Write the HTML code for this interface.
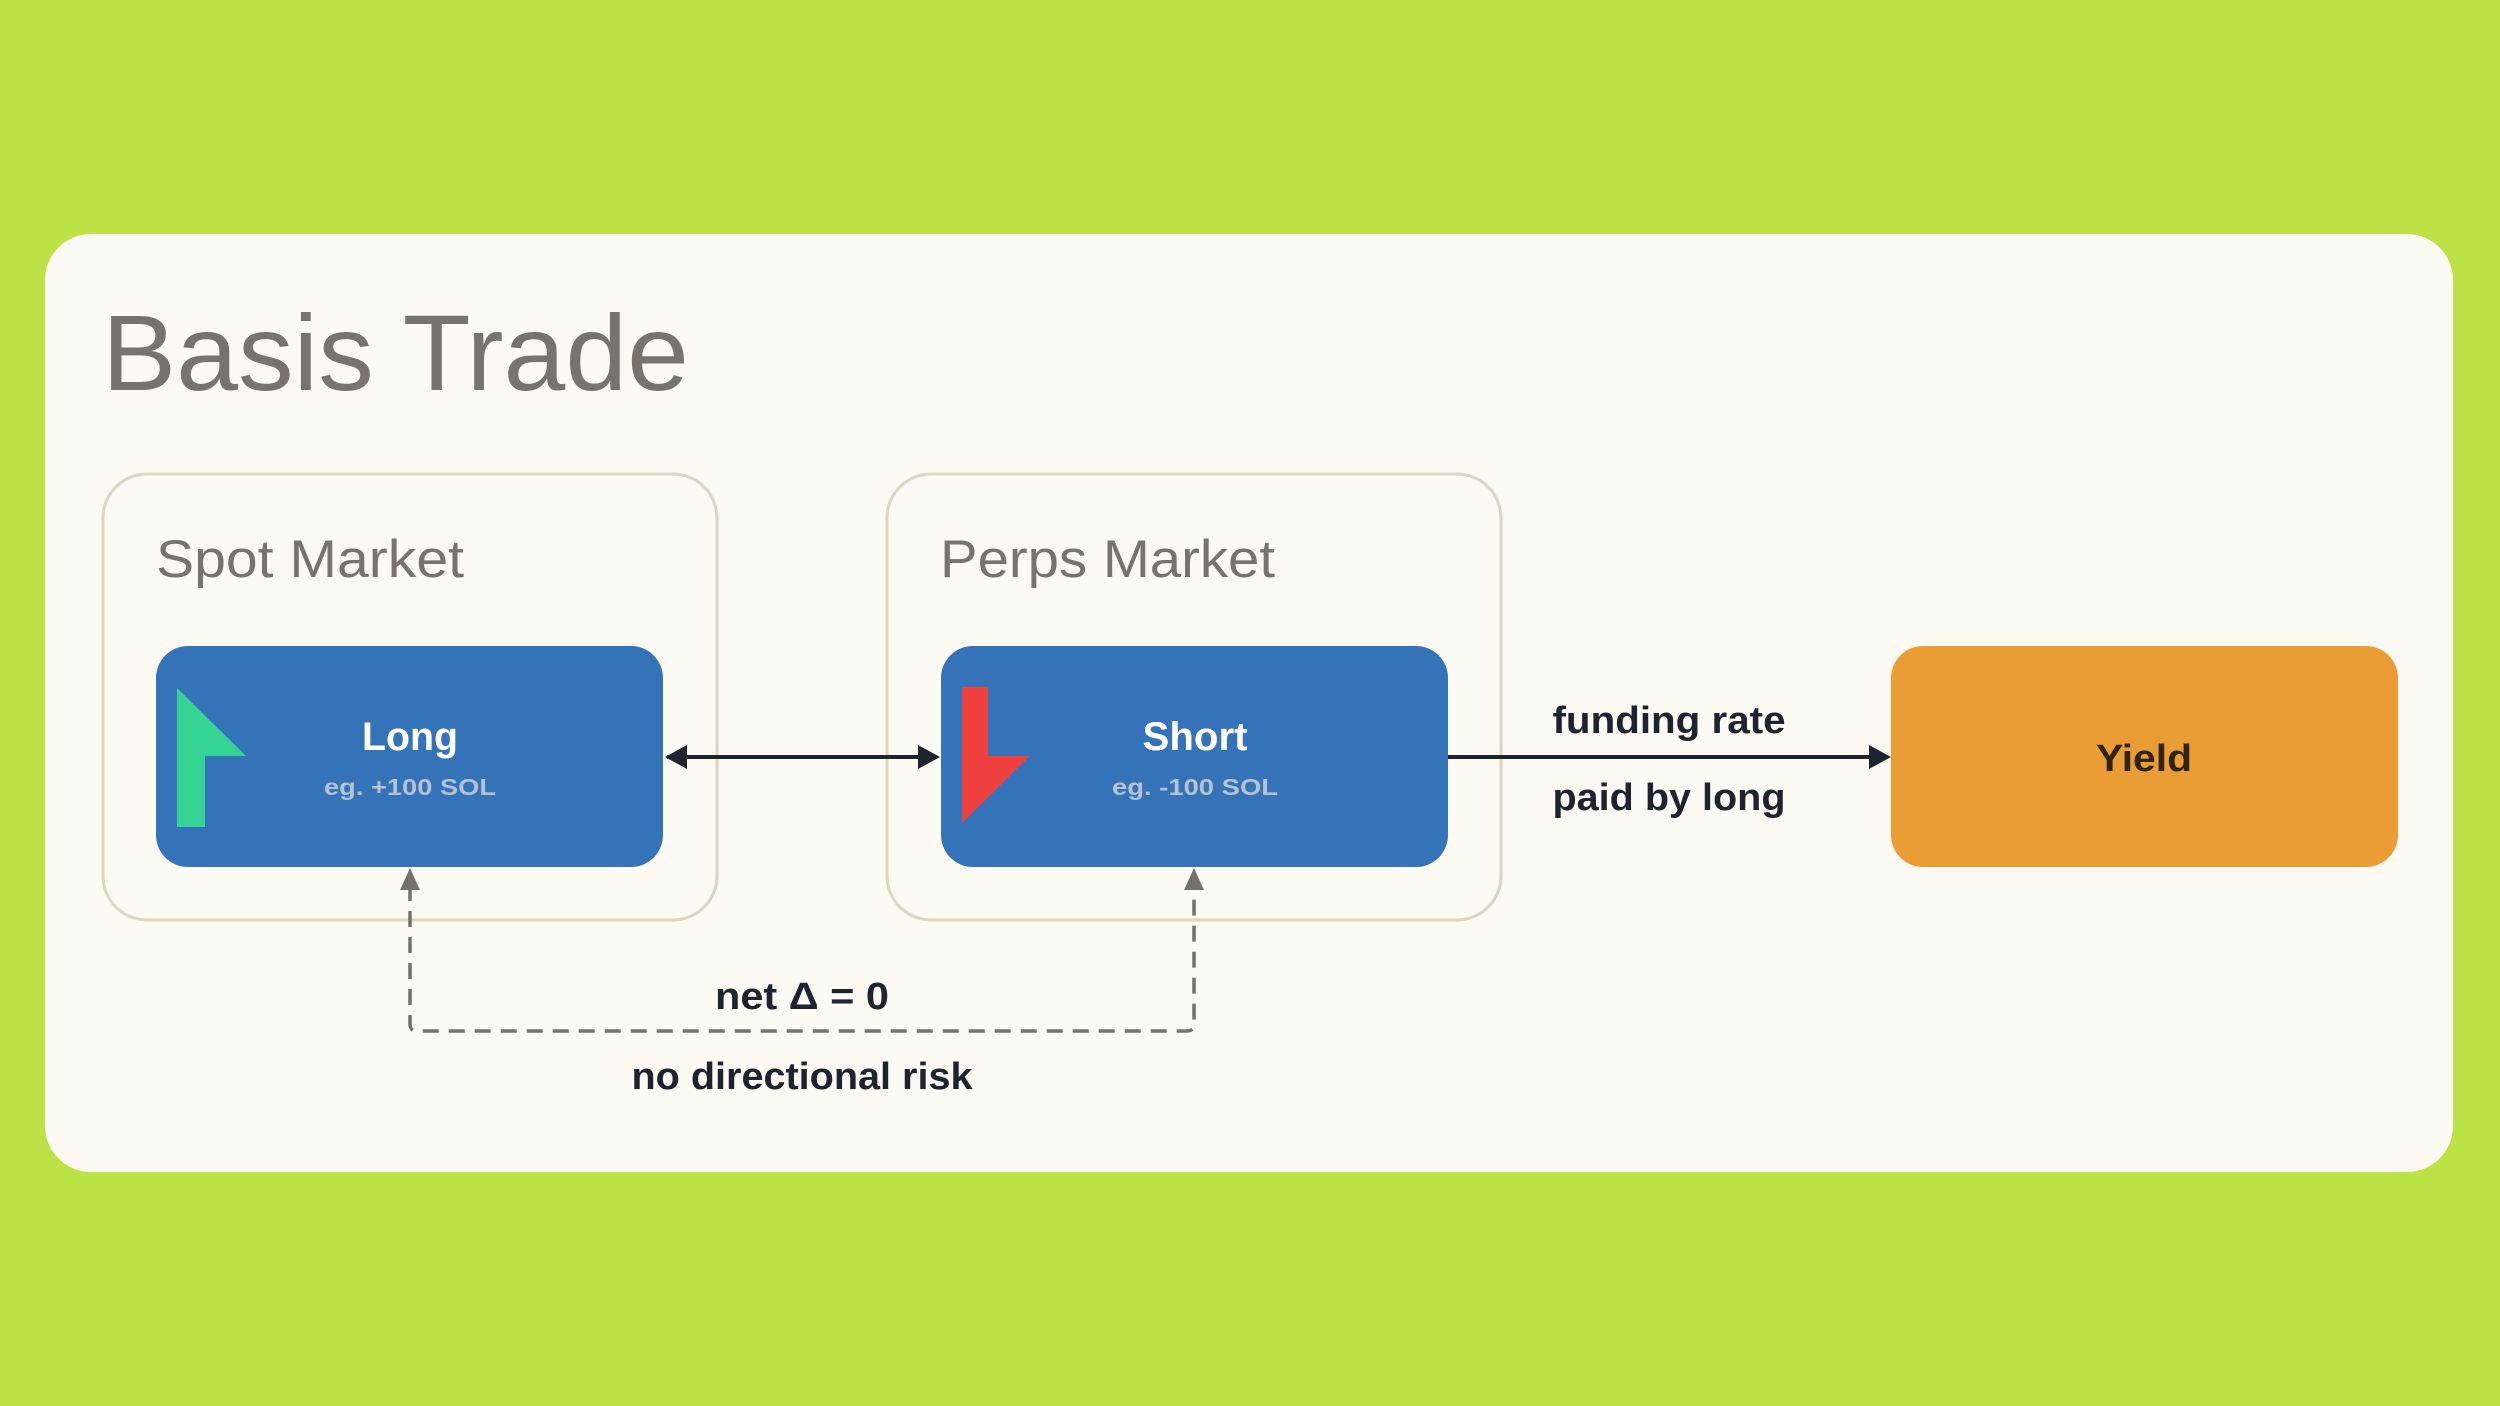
<!DOCTYPE html>
<html><head><meta charset="utf-8"><style>
html,body{margin:0;padding:0;background:#bbe346;}
svg{display:block;}
text{font-family:"Liberation Sans",sans-serif;}
</style></head><body>
<svg width="2500" height="1406" viewBox="0 0 2500 1406" xmlns="http://www.w3.org/2000/svg">
<rect x="0" y="0" width="2500" height="1406" fill="#bbe346"/>
<rect x="45" y="234" width="2408" height="938" rx="46" fill="#fdf9f3"/>
<text x="102" y="390" font-size="108" fill="#78746c" textLength="587" lengthAdjust="spacingAndGlyphs">Basis Trade</text>

<rect x="103" y="474" width="614" height="446" rx="44" fill="none" stroke="#ddd5c6" stroke-width="3"/>
<rect x="887" y="474" width="614" height="446" rx="44" fill="none" stroke="#ddd5c6" stroke-width="3"/>
<text x="156" y="577" font-size="53" fill="#78746c" textLength="308" lengthAdjust="spacingAndGlyphs">Spot Market</text>
<text x="940" y="577" font-size="53" fill="#78746c" textLength="335" lengthAdjust="spacingAndGlyphs">Perps Market</text>

<rect x="156" y="646" width="507" height="221" rx="32" fill="#3573b8"/>
<rect x="941" y="646" width="507" height="221" rx="32" fill="#3573b8"/>
<rect x="1891" y="646" width="507" height="221" rx="32" fill="#ea9c35"/>

<polygon points="177,688 246,756 205,756 205,827 177,827" fill="#35d495"/>
<polygon points="962,687 988,687 988,756 1030,756 962,823" fill="#ef4040"/>

<text x="410" y="750" font-size="40" font-weight="bold" fill="#ffffff" text-anchor="middle" textLength="96" lengthAdjust="spacingAndGlyphs">Long</text>
<text x="410" y="795" font-size="23" font-weight="bold" fill="#b4c2d2" text-anchor="middle" textLength="172" lengthAdjust="spacingAndGlyphs">eg. +100 SOL</text>
<text x="1195" y="750" font-size="40" font-weight="bold" fill="#ffffff" text-anchor="middle" textLength="105" lengthAdjust="spacingAndGlyphs">Short</text>
<text x="1195" y="795" font-size="23" font-weight="bold" fill="#b4c2d2" text-anchor="middle" textLength="166" lengthAdjust="spacingAndGlyphs">eg. -100 SOL</text>
<text x="2144" y="771" font-size="38" font-weight="bold" fill="#2e2410" text-anchor="middle" textLength="96" lengthAdjust="spacingAndGlyphs">Yield</text>

<line x1="667" y1="757" x2="937" y2="757" stroke="#1e2330" stroke-width="4"/>
<polygon points="665,757 687,745 687,769" fill="#1e2330"/>
<polygon points="940,757 918,745 918,769" fill="#1e2330"/>
<line x1="1448" y1="757" x2="1880" y2="757" stroke="#1e2330" stroke-width="4"/>
<polygon points="1891,757 1869,745 1869,769" fill="#1e2330"/>

<text x="1669" y="733" font-size="38" font-weight="bold" fill="#1e2330" text-anchor="middle" textLength="233" lengthAdjust="spacingAndGlyphs">funding rate</text>
<text x="1669" y="810" font-size="38" font-weight="bold" fill="#1e2330" text-anchor="middle" textLength="233" lengthAdjust="spacingAndGlyphs">paid by long</text>

<path d="M410,885 L410,1024 Q410,1031 417,1031 L1187,1031 Q1194,1031 1194,1024 L1194,885" fill="none" stroke="#75726b" stroke-width="3.5" stroke-dasharray="16,10"/>
<polygon points="410,868 400,890 420,890" fill="#75726b"/>
<polygon points="1194,868 1184,890 1204,890" fill="#75726b"/>

<text x="802" y="1009" font-size="38" font-weight="bold" fill="#1e2330" text-anchor="middle" textLength="174" lengthAdjust="spacingAndGlyphs">net Δ = 0</text>
<text x="802" y="1089" font-size="38" font-weight="bold" fill="#1e2330" text-anchor="middle" textLength="341" lengthAdjust="spacingAndGlyphs">no directional risk</text>
</svg>
</body></html>
